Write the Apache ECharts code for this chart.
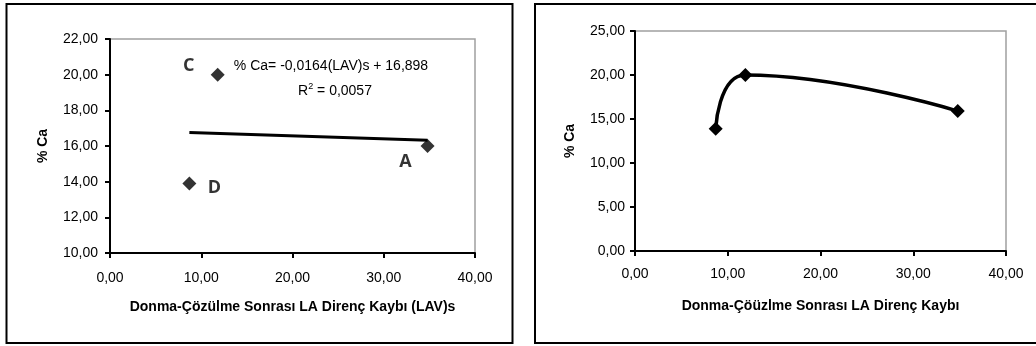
<!DOCTYPE html>
<html>
<head>
<meta charset="utf-8">
<script src="https://cdn.jsdelivr.net/npm/echarts@6/dist/echarts.min.js"></script>
<style>
html,body{margin:0;padding:0;background:#fff;}
#c{width:1036px;height:346px;}
</style>
</head>
<body>
<div id="c"></div>
<script>
// ---- data ----
const lavLoss = [11.8, 8.7, 34.8];          // x: Donma-Çözülme Sonrası LA Direnç Kaybı (LAV)s
const caPct = [20.0, 13.9, 16.0];           // y: % Ca
const pointNames = ["C", "D", "A"];
const trendSlope = -0.0164;
const trendIntercept = 16.898;
const curveX = [8.7, 11.9, 34.8];
const curveY = [13.9, 20.0, 15.9];
const eqText = "% Ca= -0,0164(LAV)s + 16,898";
const r2Text = "R{sup|2} = 0,0057";

const FONT = "'Liberation Sans', Arial, sans-serif";
const fmt = v => v.toFixed(2).replace('.', ',');

const labelOffsets = { C: [-29, -9], D: [25, 4], A: [-22, 16] };

const scatterData = lavLoss.map((x, i) => ({
  value: [x, caPct[i]],
  name: pointNames[i],
  label: {
    show: true,
    formatter: pointNames[i],
    position: 'inside',
    offset: labelOffsets[pointNames[i]],
    color: '#000',
    fontFamily: "'Open Sans', 'Liberation Sans', sans-serif",
    fontWeight: 'bold',
    fontSize: 18
  }
}));

const xMinData = Math.min(...lavLoss), xMaxData = Math.max(...lavLoss);
const trendData = [xMinData, xMaxData].map(x => [x, trendSlope * x + trendIntercept]);

function xAxisCfg(gi, name, gap, margin) {
  return {
    gridIndex: gi, type: 'value', min: 0, max: 40, interval: 10,
    name: name, nameLocation: 'middle', nameGap: gap,
    nameTextStyle: { fontFamily: FONT, fontWeight: 'bold', fontSize: 14, color: '#000' },
    axisLine: { show: true, onZero: false, lineStyle: { color: '#000', width: 2 } },
    axisTick: { show: true, inside: false, length: 5, lineStyle: { color: '#000', width: 2 } },
    axisLabel: { fontFamily: FONT, fontSize: 14, color: '#000', margin: margin, formatter: fmt },
    splitLine: { show: false }
  };
}
function yAxisCfg(gi, min, max, interval, gap, margin) {
  return {
    gridIndex: gi, type: 'value', min: min, max: max, interval: interval,
    name: '% Ca', nameLocation: 'middle', nameGap: gap, nameRotate: 90,
    nameTextStyle: { fontFamily: FONT, fontWeight: 'bold', fontSize: 14, color: '#000' },
    axisLine: { show: true, onZero: false, lineStyle: { color: '#000', width: 2 } },
    axisTick: { show: true, inside: false, length: 5, lineStyle: { color: '#000', width: 2 } },
    axisLabel: { fontFamily: FONT, fontSize: 14, color: '#000', margin: margin, formatter: fmt },
    splitLine: { show: false }
  };
}

const chart = echarts.init(document.getElementById('c'), null, { renderer: 'canvas' });
chart.setOption({
  animation: false,
  backgroundColor: '#fff',
  grid: [
    { left: 110, right: 1036 - 475, top: 39, bottom: 346 - 253, show: true, borderColor: '#a0a0a0', borderWidth: 1.5, backgroundColor: '#fff' },
    { left: 635, right: 1036 - 1006, top: 31, bottom: 346 - 251, show: true, borderColor: '#a0a0a0', borderWidth: 1.5, backgroundColor: '#fff' }
  ],
  xAxis: [
    xAxisCfg(0, 'Donma-Çözülme Sonrası LA Direnç Kaybı (LAV)s', 47, 18),
    xAxisCfg(1, 'Donma-Çöüzlme Sonrası LA Direnç Kaybı', 48, 16)
  ],
  yAxis: [
    yAxisCfg(0, 10, 22, 2, 60, 12),
    yAxisCfg(1, 0, 25, 5, 58, 10)
  ],
  graphic: [
    { type: 'rect', shape: { x: 6.5, y: 4, width: 506, height: 339 }, style: { fill: null, stroke: '#000', lineWidth: 2 }, silent: true },
    { type: 'rect', shape: { x: 535, y: 4, width: 520, height: 339 }, style: { fill: null, stroke: '#000', lineWidth: 2 }, silent: true },
    { type: 'text', x: 331, y: 66, style: { text: eqText, font: "14px 'Liberation Sans', Arial, sans-serif", fill: '#000', textAlign: 'center', textVerticalAlign: 'middle' } },
    { type: 'text', x: 335, y: 91, style: {
        text: r2Text, fontFamily: FONT, fontSize: 14, fill: '#000', textAlign: 'center', textVerticalAlign: 'middle',
        rich: { sup: { fontFamily: FONT, fontSize: 9, padding: [0, 0, 8, 0], fill: '#000' } }
      } }
  ],
  series: [
    {
      type: 'line', xAxisIndex: 0, yAxisIndex: 0, data: trendData,
      showSymbol: false, symbol: 'none',
      lineStyle: { color: '#000', width: 3 }, z: 2
    },
    {
      type: 'scatter', xAxisIndex: 0, yAxisIndex: 0, data: scatterData,
      symbol: 'diamond', symbolSize: 14,
      itemStyle: { color: '#000' }, z: 3
    },
    {
      type: 'line', xAxisIndex: 1, yAxisIndex: 1,
      data: curveX.map((x, i) => [x, curveY[i]]),
      smooth: 0.5,
      symbol: 'diamond', symbolSize: 14, showSymbol: true,
      itemStyle: { color: '#000' },
      lineStyle: { color: '#000', width: 3.5 }
    }
  ]
});
</script>
</body>
</html>
